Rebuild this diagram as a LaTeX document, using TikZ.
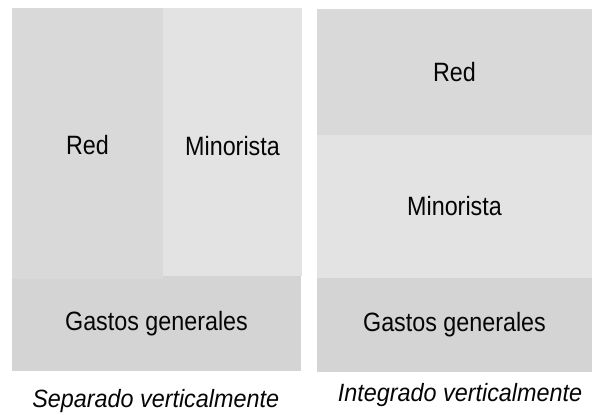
\documentclass[tikz,border=0pt]{standalone}
\usepackage{fontspec}
\newfontfamily\labfont[FakeStretch=0.88]{Liberation Sans}
\newfontfamily\captfont[FakeStretch=0.935]{Liberation Sans}
\definecolor{cRed}{HTML}{D9D9D9}
\definecolor{cMin}{HTML}{E3E3E3}
\definecolor{cGas}{HTML}{D4D4D4}
\definecolor{cText}{HTML}{050505}
\begin{document}
\begin{tikzpicture}[x=1pt,y=-1pt,
  box/.style={draw=none, inner sep=0pt, outer sep=0pt, anchor=north west, text=cText,
    font=\labfont\fontsize{26.5}{30}\selectfont},
  captionlbl/.style={inner sep=0pt, anchor=base, text=cText,
    font=\captfont\itshape\fontsize{25}{28}\selectfont}]
\useasboundingbox (0,0) rectangle (592,415);
% left: separated
\node[box, fill=cGas, minimum width=289pt, minimum height=95pt] (lgas) at (12,276) {Gastos generales};
\node[box, fill=cRed, minimum width=151pt, minimum height=271pt, text height=22pt, text depth=0pt] (lred) at (12,8) {Red};
\node[box, fill=cMin, minimum width=139pt, minimum height=268pt, text height=27pt, text depth=0pt] (lmin) at (163,8) {Minorista};
\node[captionlbl] (lcap) at (155.7,407.7) {Separado verticalmente};
% right: integrated
\node[box, fill=cRed, minimum width=275pt, minimum height=126pt] (rred) at (317,9) {Red};
\node[box, fill=cMin, minimum width=275pt, minimum height=143pt] (rmin) at (317,135) {Minorista};
\node[box, fill=cGas, minimum width=275pt, minimum height=94pt] (rgas) at (317,278) {Gastos generales};
\node[captionlbl] (rcap) at (460,401.7) {Integrado verticalmente};
\end{tikzpicture}
\end{document}
